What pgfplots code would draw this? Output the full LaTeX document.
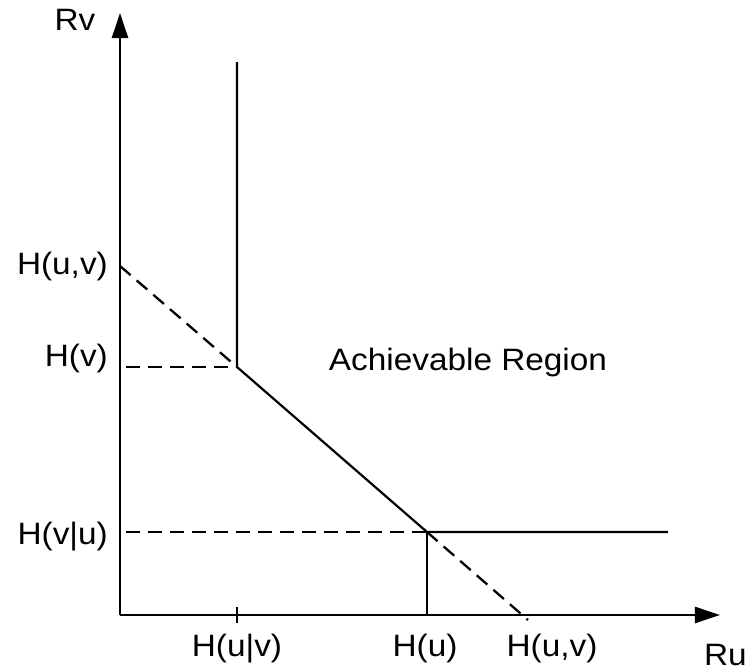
\documentclass[border=0pt]{standalone}
\usepackage{fontspec}
\setmainfont[FakeStretch=1.08]{Liberation Sans}
\usepackage{pgfplots}
\pgfplotsset{compat=1.18}
\usetikzlibrary{arrows.meta}

\begin{document}
\begin{tikzpicture}[
  solidline/.style={black, no markers, line width=2.2bp},
  dashline/.style={black, no markers, line width=2.3bp, dash pattern=on 14bp off 8bp},
  lbl/.style={font=\fontsize{31}{36}\selectfont},
]
\begin{axis}[
  x=1bp, y=1bp,
  xmin=0, xmax=600, ymin=0, ymax=602,
  axis lines=left,
  axis line style={line width=2.5bp, -{Triangle[length=25bp,width=16bp]}},
  clip=false,
  xtick={117,305,432},
  xticklabels={{H(u|v)}, {H(u)}, {H(u,v)}},
  ytick={352,260,82},
  yticklabels={{H(u,v)\hspace{8bp}}, {H(v)\hspace{10bp}}, {H(v|u)}},
  major tick length=0pt,
  tick style={draw=none},
  ticklabel style={font=\fontsize{31}{36}\selectfont, inner sep=0pt},
  xticklabel style={anchor=base, yshift=-41bp},
  yticklabel style={anchor=base east, xshift=-12bp, yshift=-11bp},
]
% rate-region boundary
\addplot[solidline] coordinates {(117,553) (117,248) (307,83) (548,83)};
\addplot[solidline] coordinates {(307,0) (307,83)};
% dashed guides
\addplot[dashline] coordinates {(0,349) (117,248)};
\addplot[dashline] coordinates {(307,83) (408,-5)};
\addplot[dashline] coordinates {(6,248) (117,248)};
\addplot[dashline] coordinates {(6,83) (307,83)};
% tick at H(u|v)
\addplot[solidline] coordinates {(117,-8) (117,8)};
\node[lbl, anchor=base, inner sep=0pt] at (axis cs:348,245) {Achievable Region};
\node[lbl, anchor=base, inner sep=0pt] at (axis cs:-45,585) {Rv};
\node[lbl, anchor=base east, inner sep=0pt] at (axis cs:627,-50) {Ru};
\end{axis}
\pgfresetboundingbox
\path (-120bp,-56bp) rectangle (634bp,615bp);
\end{tikzpicture}
\end{document}
